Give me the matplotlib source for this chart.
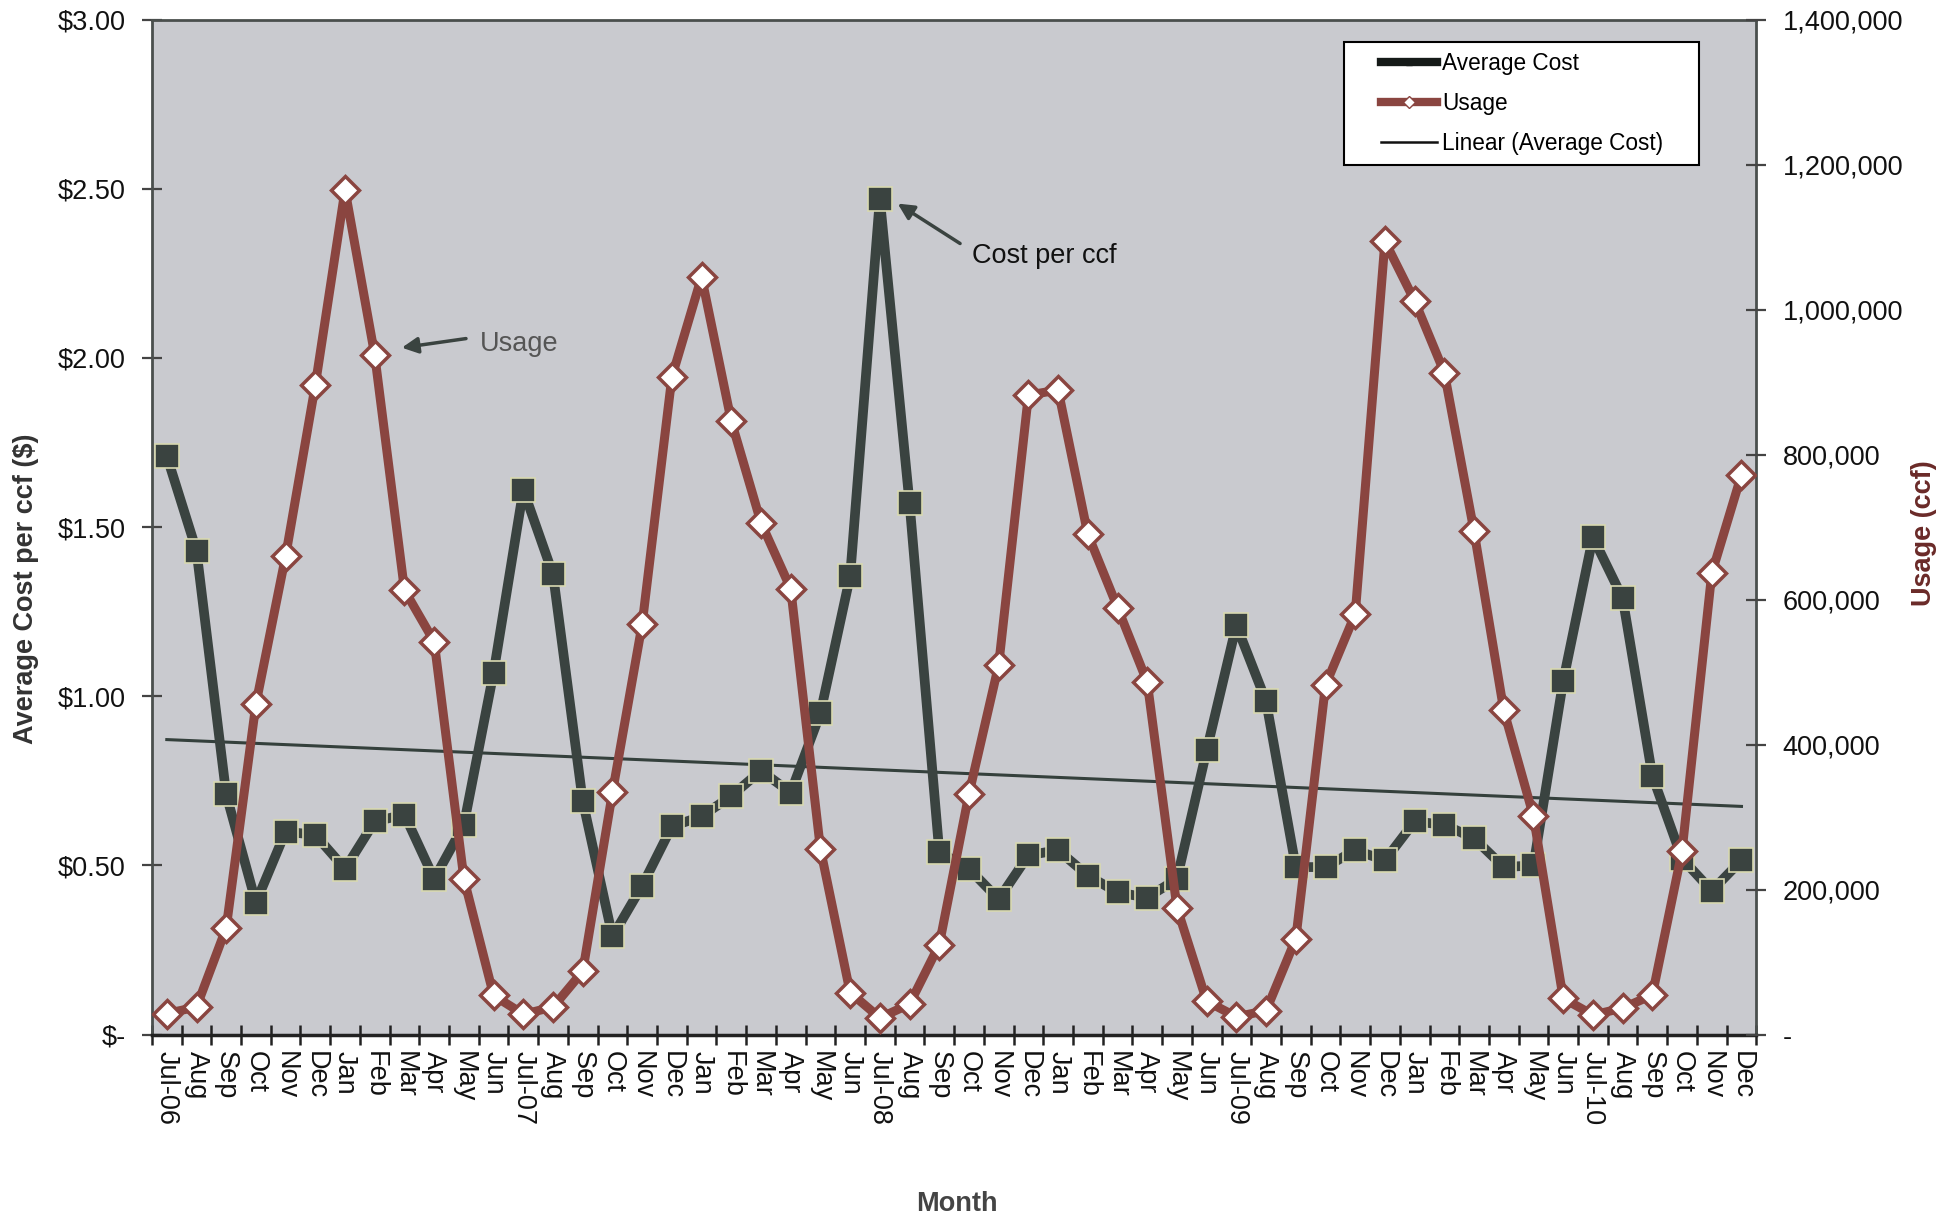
import numpy as np
import matplotlib.pyplot as plt
from matplotlib.lines import Line2D
from matplotlib.legend_handler import HandlerLine2D
from matplotlib.ticker import FuncFormatter, MultipleLocator, FixedLocator

plt.rcParams['font.family'] = ['Liberation Sans', 'DejaVu Sans']

months = ['Jul-06', 'Aug', 'Sep', 'Oct', 'Nov', 'Dec',
          'Jan', 'Feb', 'Mar', 'Apr', 'May', 'Jun',
          'Jul-07', 'Aug', 'Sep', 'Oct', 'Nov', 'Dec',
          'Jan', 'Feb', 'Mar', 'Apr', 'May', 'Jun',
          'Jul-08', 'Aug', 'Sep', 'Oct', 'Nov', 'Dec',
          'Jan', 'Feb', 'Mar', 'Apr', 'May', 'Jun',
          'Jul-09', 'Aug', 'Sep', 'Oct', 'Nov', 'Dec',
          'Jan', 'Feb', 'Mar', 'Apr', 'May', 'Jun',
          'Jul-10', 'Aug', 'Sep', 'Oct', 'Nov', 'Dec']

avg_cost = [1.71, 1.43, 0.71, 0.39, 0.60, 0.59,
            0.49, 0.63, 0.65, 0.46, 0.62, 1.07,
            1.61, 1.36, 0.69, 0.29, 0.44, 0.615,
            0.645, 0.705, 0.78, 0.715, 0.95, 1.355,
            2.47, 1.57, 0.54, 0.49, 0.40, 0.53,
            0.545, 0.47, 0.42, 0.405, 0.46, 0.84,
            1.21, 0.985, 0.495, 0.495, 0.545, 0.515,
            0.63, 0.62, 0.58, 0.495, 0.50, 1.045,
            1.47, 1.29, 0.765, 0.52, 0.425, 0.515]

usage = [29000, 38000, 147000, 456000, 660000, 896000,
         1165000, 937000, 613000, 542000, 215000, 54000,
         28000, 38000, 87000, 334000, 566000, 907000,
         1045000, 846000, 706000, 615000, 256000, 58000,
         23000, 42000, 124000, 332000, 510000, 882000,
         889000, 690000, 589000, 486000, 175000, 46000,
         24500, 33000, 132000, 482000, 580000, 1094000,
         1012000, 913000, 694000, 447000, 301000, 50000,
         27000, 36500, 54500, 253000, 636000, 772000]

cost_col = '#3a4340'
usage_col = '#8a4540'
fs = 19.5


class ShiftedLine(HandlerLine2D):
    # leave some blank room at the left of each legend handle
    def create_artists(self, legend, orig_handle, xdescent, ydescent, width, height, fontsize, trans):
        shift = 0.325 * width
        return super().create_artists(legend, orig_handle, xdescent - shift, ydescent,
                                      width - shift, height, fontsize, trans)


x = np.arange(len(months))

fig = plt.figure(figsize=(19.58, 12.2), dpi=100)
ax = fig.add_axes([0.0776, 0.152, 0.8194, 0.832])
ax.set_facecolor('#c9cacf')

# cost line
ax.plot(x, avg_cost, color=cost_col, lw=7, marker='s', ms=17,
        mfc=cost_col, mec='#d8d9b0', mew=1.2, zorder=3)

# linear trend of cost
slope, intercept = np.polyfit(x, avg_cost, 1)
ax.plot(x, slope * x + intercept, color='#34403c', lw=2.2, zorder=2)

ax.set_xlim(-0.5, len(months) - 0.5)
ax.set_ylim(0, 3.0)
ax.yaxis.set_major_locator(MultipleLocator(0.5))
ax.yaxis.set_major_formatter(FuncFormatter(lambda v, p: '$-' if v == 0 else f'${v:.2f}'))

ax.xaxis.set_major_locator(FixedLocator(x))
ax.set_xticklabels(months, rotation=-90, fontsize=fs, color='#111111')
ax.xaxis.set_minor_locator(FixedLocator(np.arange(-0.5, len(months), 1)))
ax.tick_params(axis='x', which='major', length=0, pad=12)
ax.tick_params(axis='x', which='minor', length=14, width=1.8, direction='inout', color='#222222')
ax.tick_params(axis='y', labelsize=fs, labelcolor='#111111', direction='inout', length=14,
               width=1.6, color='#444444', pad=12)

for s in ['left', 'right', 'top']:
    ax.spines[s].set_color('#4a4f4d')
    ax.spines[s].set_linewidth(2)
ax.spines['bottom'].set_color('#222222')
ax.spines['bottom'].set_linewidth(2.5)

ax.set_ylabel('Average Cost per ccf ($)', fontsize=fs, fontweight='bold', color='#333333')
ax.yaxis.label.set_verticalalignment('center')
ax.yaxis.set_label_coords(-0.0788, 0.4394)
ax.set_xlabel('Month', fontsize=fs, fontweight='bold', color='#444444')
ax.xaxis.label.set_verticalalignment('center')
ax.xaxis.set_label_coords(0.502, -0.167)

# usage on right axis
ax2 = ax.twinx()
ax2.plot(x, usage, color=usage_col, lw=6.5, marker='D', ms=14,
         mfc='white', mec=usage_col, mew=2.5, zorder=4)
ax2.set_ylim(0, 1400000)
ax2.yaxis.set_major_locator(MultipleLocator(200000))
ax2.yaxis.set_major_formatter(FuncFormatter(lambda v, p: '-' if v == 0 else f'{v:,.0f}'))
ax2.tick_params(axis='y', labelsize=fs, labelcolor='#111111', direction='inout', length=14,
                width=1.6, color='#444444', pad=12)
for s in ['left', 'right', 'top', 'bottom']:
    ax2.spines[s].set_visible(False)
ax2.set_ylabel('Usage (ccf)', fontsize=fs, fontweight='bold', color='#6a2a28')
ax2.yaxis.label.set_verticalalignment('center')
ax2.yaxis.set_label_coords(1.1047, 0.4936)

# annotations
arrow = dict(arrowstyle='-|>', color='#3a4340', lw=2.5, mutation_scale=24, shrinkA=0, shrinkB=0)
ax.annotate('', xy=(7.91, 2.03), xytext=(10.07, 2.057), arrowprops=arrow, zorder=6)
ax.text(10.54, 2.042, 'Usage', fontsize=fs, color='#555555', va='center', ha='left', zorder=6)
ax.annotate('', xy=(24.6, 2.456), xytext=(26.7, 2.338), arrowprops=arrow, zorder=6)
ax.text(27.09, 2.30, 'Cost per ccf', fontsize=fs, color='#111111', va='center', ha='left', zorder=6)

handles = [
    Line2D([], [], color='#151a18', lw=6, marker='s', ms=5, mfc='#151a18'),
    Line2D([], [], color=usage_col, lw=6, marker='D', ms=6, mfc='white', mec=usage_col),
    Line2D([], [], color='#111111', lw=1.8),
]
leg = ax2.legend(handles, ['Average Cost', 'Usage', 'Linear (Average Cost)'],
                 loc='upper left', bbox_to_anchor=(0.743, 0.978, 0.2215, 0.0), mode='expand',
                 fontsize=16.3, frameon=True, fancybox=False, edgecolor='black', framealpha=1,
                 handlelength=3.67, handletextpad=0.22, labelspacing=0.75,
                 borderpad=0.45, borderaxespad=0,
                 handler_map={Line2D: ShiftedLine()})
leg.get_frame().set_linewidth(1.5)
leg.get_frame().set_facecolor('white')
leg.set_zorder(10)

fig.savefig('out.png', dpi=100)
